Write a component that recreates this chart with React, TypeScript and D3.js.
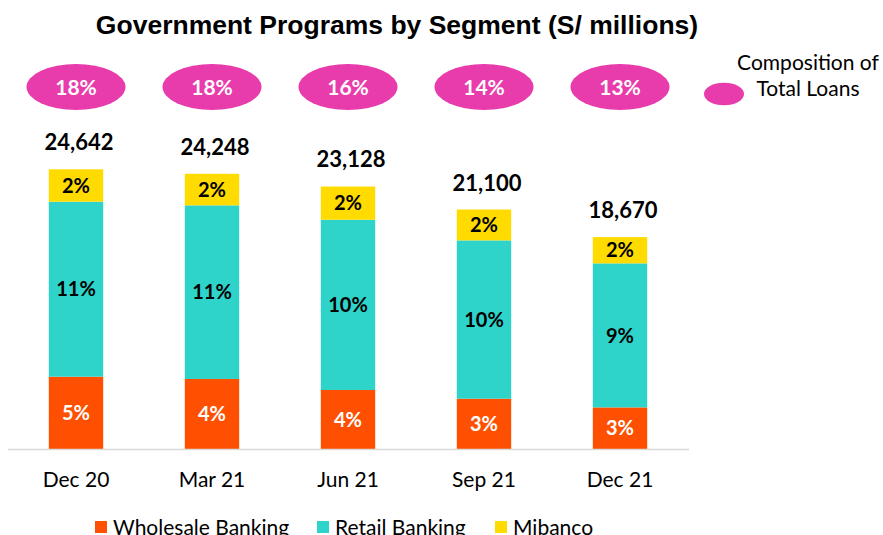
import React from "react";
import * as d3 from "d3";

const categories = ["Dec 20", "Mar 21", "Jun 21", "Sep 21", "Dec 21"];
const wholesale = [6370, 6170, 5200, 4430, 3665];
const retail = [15420, 15295, 15000, 13950, 12690];
const mibanco = [2852, 2783, 2928, 2720, 2315];
const totals = [24642, 24248, 23128, 21100, 18670];
const wholesalePct = ["5%", "4%", "4%", "3%", "3%"];
const retailPct = ["11%", "11%", "10%", "10%", "9%"];
const mibancoPct = ["2%", "2%", "2%", "2%", "2%"];
const loanShare = ["18%", "18%", "16%", "14%", "13%"];

const seriesNames = ["Wholesale Banking", "Retail Banking", "Mibanco"];
const seriesColors = ["#FE5000", "#2ED3C9", "#FFDB00"];
const seriesLabelColors = ["#FFFFFF", "#000000", "#000000"];
const pink = "#E93CAC";

const W = 883;
const H = 535;
const FONT = "Lato, 'Open Sans', sans-serif";

export default function App() {
  const x = d3
    .scaleBand<string>()
    .domain(categories)
    .range([8, 688])
    .paddingInner(0.6)
    .paddingOuter(0.3);
  const y = d3.scaleLinear().domain([0, 30000]).range([449, 108.5]);

  const rows = categories.map((c, i) => ({
    cat: c,
    wholesale: wholesale[i],
    retail: retail[i],
    mibanco: mibanco[i],
  }));
  const stack = d3.stack<any>().keys(["wholesale", "retail", "mibanco"])(rows);
  const pctLabels = [wholesalePct, retailPct, mibancoPct];

  const legendX = [95, 317, 495];

  return (
    <svg
      width={W}
      height={H}
      style={{ position: "absolute", left: 0, top: 0, background: "#fff" }}
    >
      <text
        x={397}
        y={34}
        textAnchor="middle"
        fontFamily="'Liberation Sans', Arial, sans-serif"
        fontWeight="bold"
        fontSize={26.5}
        fill="#000"
      >
        Government Programs by Segment (S/ millions)
      </text>

      {/* composition ellipses */}
      {categories.map((c, i) => (
        <g key={"e" + c}>
          <ellipse
            cx={x(c)! + x.bandwidth() / 2}
            cy={87}
            rx={49.5}
            ry={23}
            fill={pink}
          />
          <text
            x={x(c)! + x.bandwidth() / 2}
            y={87}
            dy="0.36em"
            textAnchor="middle"
            fontFamily={FONT}
            fontWeight="bold"
            fontSize={21}
            fill="#fff"
          >
            {loanShare[i]}
          </text>
        </g>
      ))}

      {/* legend for ellipses */}
      <ellipse cx={724} cy={94} rx={20} ry={11.3} fill={pink} />
      <text x={808} y={70} textAnchor="middle" fontFamily={FONT} fontSize={21} fill="#000">
        Composition of
      </text>
      <text x={808} y={96} textAnchor="middle" fontFamily={FONT} fontSize={21} fill="#000">
        Total Loans
      </text>

      {/* bars */}
      {stack.map((layer, si) => (
        <g key={layer.key} fill={seriesColors[si]}>
          {layer.map((d, i) => (
            <rect
              key={categories[i]}
              x={x(categories[i])}
              y={y(d[1])}
              width={x.bandwidth()}
              height={y(d[0]) - y(d[1])}
            />
          ))}
        </g>
      ))}
      {stack.map((layer, si) => (
        <g key={"l" + layer.key}>
          {layer.map((d, i) => (
            <text
              key={categories[i]}
              x={x(categories[i])! + x.bandwidth() / 2}
              y={(y(d[0]) + y(d[1])) / 2}
              dy="0.36em"
              textAnchor="middle"
              fontFamily={FONT}
              fontWeight="bold"
              fontSize={20}
              fill={seriesLabelColors[si]}
            >
              {pctLabels[si][i]}
            </text>
          ))}
        </g>
      ))}

      {/* totals */}
      {categories.map((c, i) => (
        <text
          key={"t" + c}
          x={x(c)! + x.bandwidth() / 2 + 3}
          y={y(totals[i]) - 19}
          textAnchor="middle"
          fontFamily={FONT}
          fontWeight="bold"
          fontSize={22}
          fill="#000"
        >
          {d3.format(",")(totals[i])}
        </text>
      ))}

      {/* axis line */}
      <line x1={8} x2={689} y1={449.5} y2={449.5} stroke="#D9D9D9" strokeWidth={1.5} />

      {/* category labels */}
      {categories.map((c) => (
        <text
          key={"c" + c}
          x={x(c)! + x.bandwidth() / 2}
          y={487}
          textAnchor="middle"
          fontFamily={FONT}
          fontSize={21}
          fill="#000"
        >
          {c}
        </text>
      ))}

      {/* bottom legend */}
      {seriesNames.map((n, i) => (
        <g key={n}>
          <rect x={legendX[i]} y={521} width={12} height={12} fill={seriesColors[i]} />
          <text
            x={legendX[i] + 18}
            y={535}
            fontFamily={FONT}
            fontSize={21}
            fill="#000"
          >
            {n}
          </text>
        </g>
      ))}
    </svg>
  );
}
